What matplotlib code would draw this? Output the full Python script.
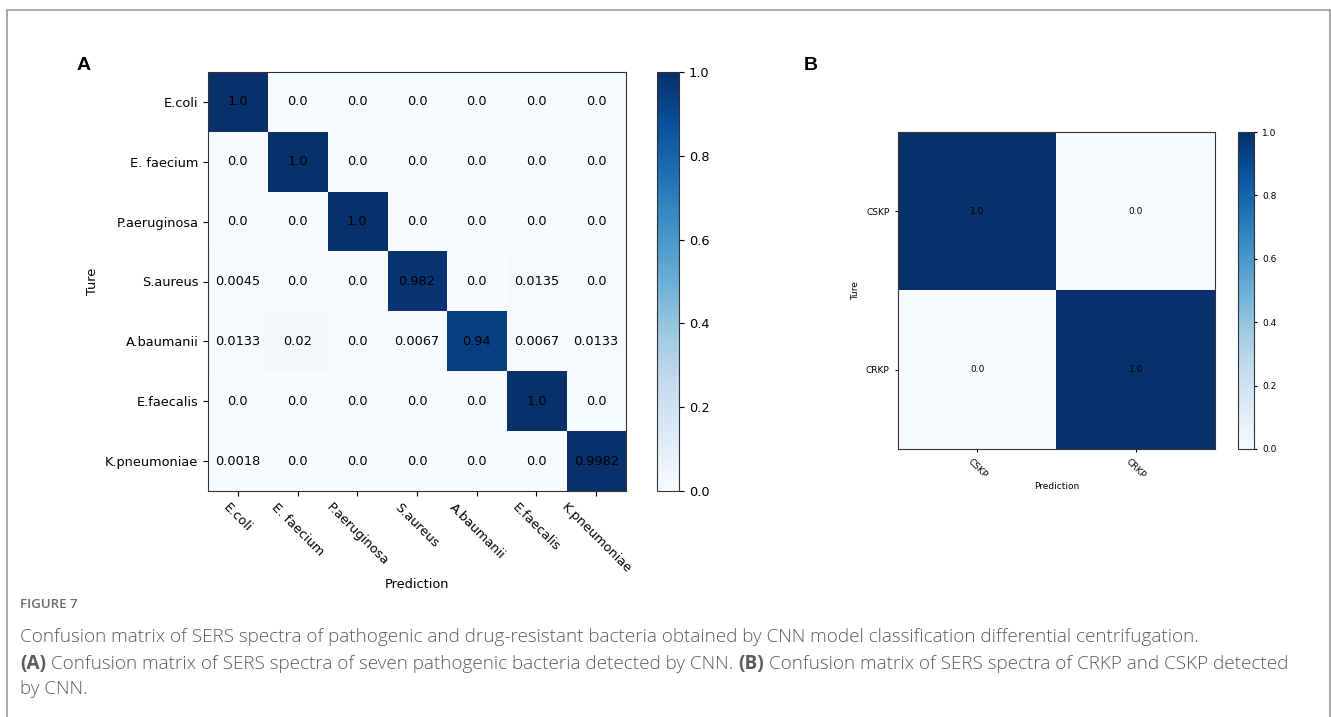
import numpy as np
import matplotlib
matplotlib.use("Agg")
import matplotlib.pyplot as plt
from matplotlib.patches import Rectangle

# Panel A: seven pathogenic species
species = ["E.coli", "E. faecium", "P.aeruginosa", "S.aureus",
           "A.baumanii", "E.faecalis", "K.pneumoniae"]
row_ecoli = [1.0, 0.0, 0.0, 0.0, 0.0, 0.0, 0.0]
row_efaecium = [0.0, 1.0, 0.0, 0.0, 0.0, 0.0, 0.0]
row_paeruginosa = [0.0, 0.0, 1.0, 0.0, 0.0, 0.0, 0.0]
row_saureus = [0.0045, 0.0, 0.0, 0.982, 0.0, 0.0135, 0.0]
row_abaumanii = [0.0133, 0.02, 0.0, 0.0067, 0.94, 0.0067, 0.0133]
row_efaecalis = [0.0, 0.0, 0.0, 0.0, 0.0, 1.0, 0.0]
row_kpneumoniae = [0.0018, 0.0, 0.0, 0.0, 0.0, 0.0, 0.9982]

# Panel B: drug-resistant vs drug-sensitive K. pneumoniae
strains = ["CSKP", "CRKP"]
row_cskp = [1.0, 0.0]
row_crkp = [0.0, 1.0]

cbar_ticks = [0.0, 0.2, 0.4, 0.6, 0.8, 1.0]

FONT = dict(family="DejaVu Sans")

W, H = 1331, 717
fig = plt.figure(figsize=(W / 100, H / 100), dpi=100)


def box(x0, y0, x1, y1):
    return [x0 / W, 1 - y1 / H, (x1 - x0) / W, (y1 - y0) / H]


def confusion(ax, cax, labels, rows, fs, cell_fs, label_fs):
    mat = np.array(rows)
    im = ax.imshow(mat, cmap="Blues", vmin=0.0, vmax=1.0, aspect="auto",
                   interpolation="nearest")
    n = len(labels)
    for i in range(n):
        for j in range(n):
            ax.text(j, i, str(mat[i, j]), ha="center", va="center",
                    fontsize=cell_fs, color="black", **FONT)
    ax.set_xticks(range(n))
    ax.set_yticks(range(n))
    ax.set_xticklabels(labels, rotation=-45, ha="center", fontsize=fs, **FONT)
    ax.set_yticklabels(labels, fontsize=fs, **FONT)
    ax.set_xlabel("Prediction", fontsize=label_fs, **FONT)
    ax.set_ylabel("Ture", fontsize=label_fs, **FONT)
    for s in ax.spines.values():
        s.set_color("#333333")
    cb = fig.colorbar(im, cax=cax, ticks=cbar_ticks)
    cb.ax.set_yticklabels([f"{t:.1f}" for t in cbar_ticks], fontsize=fs, **FONT)
    cb.outline.set_edgecolor("#333333")
    return im


axA = fig.add_axes(box(208, 72, 626, 491))
caxA = fig.add_axes(box(657, 72, 679, 491))
confusion(axA, caxA, species,
          [row_ecoli, row_efaecium, row_paeruginosa, row_saureus,
           row_abaumanii, row_efaecalis, row_kpneumoniae],
          fs=9.3, cell_fs=9.3, label_fs=9.3)
axA.xaxis.labelpad = 1.5
axA.yaxis.labelpad = 4

axB = fig.add_axes(box(898, 132, 1215, 449))
caxB = fig.add_axes(box(1238, 132, 1254, 449))
confusion(axB, caxB, strains, [row_cskp, row_crkp],
          fs=6.5, cell_fs=6.5, label_fs=6.5)
axB.tick_params(length=2.5)
caxB.tick_params(length=2.5)
axB.xaxis.labelpad = 1

# Panel letters
fig.text(77 / W, 1 - 65 / H, "A", fontsize=14, fontweight="bold",
         family="Liberation Sans", va="center", ha="left")
fig.text(804 / W, 1 - 65 / H, "B", fontsize=14, fontweight="bold",
         family="Liberation Sans", va="center", ha="left")

# Frame around the figure block
frame = Rectangle((7 / W, -0.1), (1330 - 7) / W, 1.1 - 10 / H,
                  transform=fig.transFigure, fill=False,
                  edgecolor="#9a9a9a", linewidth=1.2, clip_on=False)
fig.add_artist(frame)

# Caption
cap_font = "Open Sans"
cap_color = "#5a5a5a"
fig.text(20 / W, 1 - 604 / H, "FIGURE 7", fontsize=9.5, color="#6a6a6a",
         family=cap_font, fontweight="semibold", va="center", ha="left")

fig.canvas.draw()
renderer = fig.canvas.get_renderer()


def rich_line(y_px, pieces, fs=13.6):
    x = 20 / W
    for txt, bold in pieces:
        t = fig.text(x, 1 - y_px / H, txt, fontsize=fs, color=cap_color,
                     family=cap_font, fontweight="bold" if bold else "light",
                     va="center", ha="left")
        bb = t.get_window_extent(renderer=renderer)
        x += bb.width / W


rich_line(637, [("Confusion matrix of SERS spectra of pathogenic and drug-resistant "
                 "bacteria obtained by CNN model classification differential centrifugation.", False)])
rich_line(664, [("(A)", True),
                (" Confusion matrix of SERS spectra of seven pathogenic bacteria detected by CNN. ", False),
                ("(B)", True),
                (" Confusion matrix of SERS spectra of CRKP and CSKP detected", False)])
rich_line(689, [("by CNN.", False)])

fig.savefig("out.png", dpi=100, facecolor="white")
